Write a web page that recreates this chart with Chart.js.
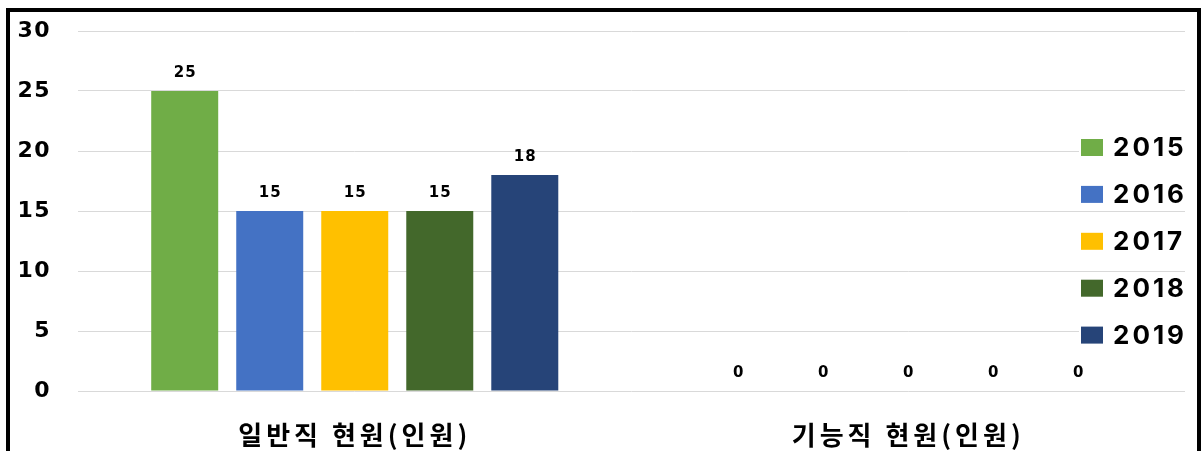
<!DOCTYPE html>
<html>
<head>
<meta charset="utf-8">
<script src="https://cdn.jsdelivr.net/npm/chart.js@4"></script>
<style>
  html, body { margin: 0; padding: 0; background: #fff; overflow: hidden; }
  #frame {
    position: absolute; left: 6px; top: 8px;
    width: 1187px; height: 443px;
    border: 4px solid #000; border-bottom: none;
    background: #fff;
  }
  canvas { display: block; }
</style>
</head>
<body>
<div id="frame"><canvas id="c" width="1187" height="439"></canvas></div>
<script>
const categories = ['일반직 현원(인원)', '기능직 현원(인원)'];
const seriesNames = ['2015', '2016', '2017', '2018', '2019'];
const values2015 = [25, 0];
const values2016 = [15, 0];
const values2017 = [15, 0];
const values2018 = [15, 0];
const values2019 = [18, 0];
const seriesColors = ['#70AD47', '#4472C4', '#FFC000', '#43682B', '#264478'];
const yTicks = [0, 5, 10, 15, 20, 25, 30];

const seriesValues = [values2015, values2016, values2017, values2018, values2019];

const datasets = seriesNames.map((name, i) => ({
  label: name,
  data: seriesValues[i],
  backgroundColor: seriesColors[i],
  borderWidth: 0,
  barPercentage: 0.788,
  categoryPercentage: 0.768
}));

const spacingPlugin = {
  id: 'spacing',
  beforeDraw(chart) { chart.ctx.letterSpacing = '1.5px'; },
  afterDatasetsDraw(chart) {
    const ctx = chart.ctx;
    ctx.save();
    ctx.letterSpacing = '1px';
    ctx.font = "bold 15px 'DejaVu Sans', sans-serif";
    ctx.fillStyle = '#000';
    ctx.textAlign = 'center';
    ctx.textBaseline = 'middle';
    chart.data.datasets.forEach((ds, di) => {
      const meta = chart.getDatasetMeta(di);
      meta.data.forEach((bar, j) => {
        ctx.fillText(String(ds.data[j]), bar.x + 0.5, bar.y - 17.5);
      });
    });
    ctx.restore();
    ctx.letterSpacing = '4px';
  },
  afterDraw(chart) {
    const ctx = chart.ctx;
    ctx.save();
    ctx.letterSpacing = '3px';
    ctx.font = "bold 26px Inter, 'Noto Sans', sans-serif";
    ctx.textBaseline = 'middle';
    ctx.textAlign = 'left';
    const x0 = 1071, top = 135.5, step = 46.9;
    chart.data.datasets.forEach((ds, i) => {
      const cy = top + i * step;
      ctx.fillStyle = '#fff';
      ctx.fillRect(x0 - 2, cy - 16, 118, 32);
      ctx.fillStyle = ds.backgroundColor;
      ctx.fillRect(x0, cy - 8.5, 22, 17);
      ctx.fillStyle = '#000';
      ctx.fillText(ds.label, x0 + 32, cy + 1);
    });
    ctx.restore();
  }
};

new Chart(document.getElementById('c'), {
  type: 'bar',
  data: { labels: categories, datasets },
  plugins: [spacingPlugin],
  options: {
    responsive: false,
    animation: false,
    layout: { padding: { left: 8, right: 12, top: 19, bottom: 0 } },
    plugins: { legend: { display: false }, tooltip: { enabled: false } },
    scales: {
      x: {
        grid: { display: false },
        border: { display: false },
        ticks: {
          z: 1,
          padding: 21,
          color: '#000',
          maxRotation: 0,
          font: { family: "'Noto Sans CJK KR', sans-serif", size: 26, weight: 'bold' }
        },
        afterFit(scale) { scale.height = 60; scale.paddingLeft = 0; scale.paddingRight = 0; }
      },
      y: {
        min: 0,
        max: 30,
        afterBuildTicks(scale) { scale.ticks = yTicks.map(v => ({ value: v })); },
        grid: { color: '#D9D9D9', lineWidth: 1, drawTicks: false },
        border: { display: false },
        ticks: {
          padding: 27,
          color: '#000',
          font: { family: "'DejaVu Sans', sans-serif", size: 22, weight: 'bold' }
        },
        afterFit(scale) { scale.width = 60; scale.paddingTop = 0; scale.paddingBottom = 0; }
      }
    }
  }
});
</script>
</body>
</html>
